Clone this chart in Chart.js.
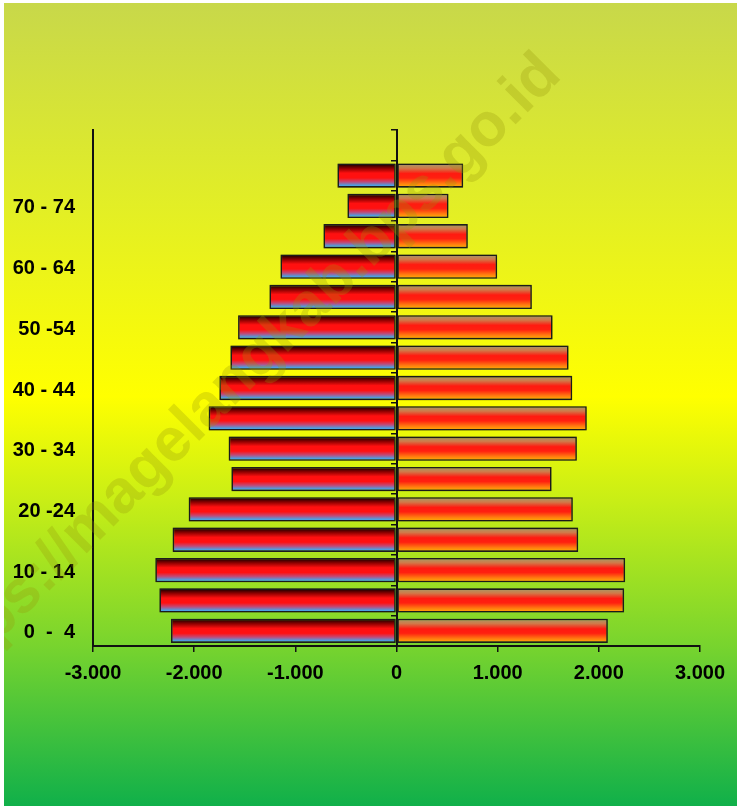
<!DOCTYPE html>
<html>
<head>
<meta charset="utf-8">
<script src="https://cdn.jsdelivr.net/npm/chart.js@4.4.0/dist/chart.umd.min.js"></script>
<style>
  html, body { margin: 0; padding: 0; background: #fff; }
  #wrap {
    position: absolute; left: 4px; top: 3px; width: 733px; height: 803px;
    background: linear-gradient(to bottom, #c8d84a 0%, #e2ee26 25%, #ffff00 49%, #c8ee16 62%, #78d42e 80%, #10b04a 100%);
  }
  canvas { display: block; }
</style>
</head>
<body>
<div id="wrap"><canvas id="pyramid" width="733" height="803"></canvas></div>
<script>
// age groups, bottom to top (top slot has no data)
const ageGroups = ['0  -  4', '5 - 9', '10 - 14', '15 - 19', '20 -24', '25 - 29', '30 - 34', '35 - 39',
    '40 - 44', '45 - 49', '50 -54', '55 - 59', '60 - 64', '65 - 69', '70 - 74', '75+', ''];
const maleValues = [2229, 2344, 2384, 2213, 2054, 1632, 1659, 1857, 1751, 1642, 1566, 1256, 1147, 722, 485, 584, null];
const femaleValues = [2089, 2250, 2260, 1796, 1743, 1533, 1783, 1881, 1737, 1701, 1543, 1338, 995, 705, 514, 659, null];
const xTicks = [-3000, -2000, -1000, 0, 1000, 2000, 3000];

const FONT = '"Liberation Sans", Arial, sans-serif';

const maleStops = [[0, '#000000'], [0.2, '#8a0000'], [0.4, '#ff1010'], [0.6, '#ff1010'], [0.76, '#c04a78'], [0.9, '#4e9ee0'], [1, '#3ab8f4']];
const femaleStops = [[0, '#a09c6a'], [0.2, '#d07a4a'], [0.42, '#ff1a10'], [0.6, '#ff2010'], [0.82, '#ff7a10'], [1, '#ffb800']];

function barFill(stops) {
    return function (ctx) {
        const chart = ctx.chart;
        const y = chart.scales.y;
        if (ctx.type !== 'data' || !chart.chartArea || !y) return '#ff1010';
        const c = y.getPixelForValue(ctx.dataIndex);
        const h = Math.abs(y.getPixelForValue(1) - y.getPixelForValue(0)) * 0.8;
        const g = chart.ctx.createLinearGradient(0, c - h / 2, 0, c + h / 2);
        stops.forEach(s => g.addColorStop(s[0], s[1]));
        return g;
    };
}

function fmt(v) {
    const s = Math.abs(v).toString().replace(/\B(?=(\d{3})+(?!\d))/g, '.');
    return v < 0 ? '-' + s : s;
}

// soft shadow round the bars + watermark on top
const decor = {
    id: 'decor',
    beforeDatasetsDraw(chart) {
        chart.ctx.save();
        chart.ctx.shadowColor = 'rgba(0,0,0,0.5)';
        chart.ctx.shadowBlur = 3;
    },
    afterDatasetsDraw(chart) {
        chart.ctx.restore();
    },
    afterDraw(chart) {
        const ctx = chart.ctx;
        ctx.save();
        ctx.translate(559, 74);
        ctx.rotate(-45 * Math.PI / 180);
        ctx.font = 'bold 61px ' + FONT;
        ctx.textAlign = 'right';
        ctx.textBaseline = 'alphabetic';
        ctx.fillStyle = 'rgba(150,150,10,0.28)';
        ctx.fillText('https://magelangkab.bps.go.id', 0, 0);
        ctx.restore();
    }
};

new Chart(document.getElementById('pyramid'), {
    type: 'bar',
    data: {
        labels: ageGroups,
        datasets: [
            {
                label: 'Laki-laki',
                data: maleValues.map(v => v == null ? null : -v),
                backgroundColor: barFill(maleStops),
                borderColor: '#1e1e1e',
                borderWidth: 1.6,
                borderSkipped: false,
                barPercentage: 0.8,
                categoryPercentage: 1
            },
            {
                label: 'Perempuan',
                data: femaleValues,
                backgroundColor: barFill(femaleStops),
                borderColor: '#1e1e1e',
                borderWidth: 1.6,
                borderSkipped: false,
                barPercentage: 0.8,
                categoryPercentage: 1
            }
        ]
    },
    options: {
        indexAxis: 'y',
        responsive: false,
        animation: false,
        layout: { padding: { left: 0, top: 127, right: 37, bottom: 118 } },
        plugins: {
            legend: { display: false },
            tooltip: { enabled: false }
        },
        scales: {
            x: {
                stacked: true,
                min: -3000,
                max: 3000,
                afterBuildTicks: s => { s.ticks = xTicks.map(v => ({ value: v })); },
                afterFit: s => { s.height = 42; },
                border: { display: true, color: '#111', width: 2 },
                grid: { drawOnChartArea: false, drawTicks: true, tickLength: 6, color: '#111', lineWidth: 1.5 },
                ticks: {
                    color: '#000',
                    padding: 9,
                    maxRotation: 0,
                    font: { family: FONT, size: 20, weight: 'bold' },
                    callback: v => fmt(v)
                }
            },
            y: {
                stacked: true,
                reverse: true,
                afterFit: s => { s.width = 89; },
                border: { display: true, color: '#111', width: 2 },
                grid: { display: false },
                ticks: {
                    color: '#000',
                    padding: 10,
                    labelOffset: 2,
                    autoSkip: false,
                    font: { family: FONT, size: 20, weight: 'bold' },
                    callback: function (v, i) { return i % 2 === 0 ? this.getLabelForValue(v) : ''; }
                }
            },
            yMid: {
                type: 'category',
                position: { x: 0 },
                reverse: true,
                border: { display: true, color: '#111', width: 2 },
                grid: { drawOnChartArea: false, drawTicks: true, offset: true, tickLength: 5, color: '#111', lineWidth: 1.5 },
                ticks: { display: false }
            }
        }
    },
    plugins: [decor]
});
</script>
</body>
</html>
